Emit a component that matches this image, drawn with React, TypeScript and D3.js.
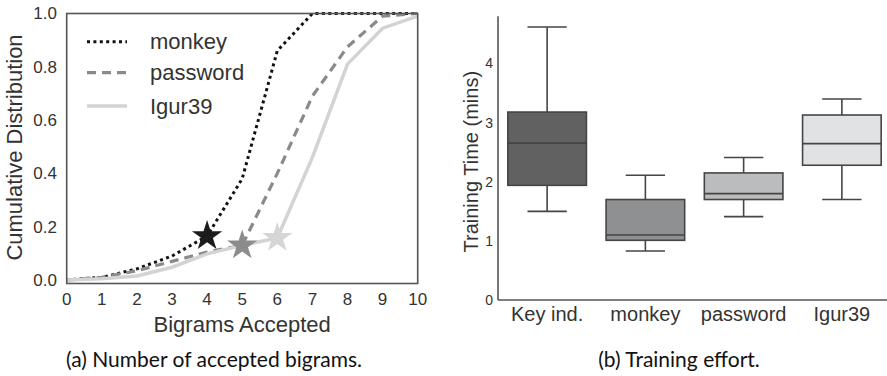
import React from 'react';
import * as d3 from 'd3';

// (a) CDF of accepted bigrams
const bigramX = [0, 1, 2, 3, 4, 5, 6, 7, 8, 9, 10];
const monkeyCdf = [0, 0.01, 0.042, 0.09, 0.165, 0.38, 0.86, 1.0, 1.0, 1.0, 1.0];
const passwordCdf = [0, 0.01, 0.035, 0.07, 0.105, 0.13, 0.4, 0.69, 0.875, 0.99, 1.0];
const igurCdf = [0, 0.005, 0.015, 0.048, 0.098, 0.13, 0.158, 0.46, 0.81, 0.945, 0.99];
const starX = [4, 5, 6];
const cdfTicksX = [0, 1, 2, 3, 4, 5, 6, 7, 8, 9, 10];
const cdfTicksY = [0, 0.2, 0.4, 0.6, 0.8, 1.0];

// (b) training time box stats: [lowWhisker, q1, median, q3, highWhisker]
const boxCats = ['Key ind.', 'monkey', 'password', 'Igur39'];
const boxStats = [
  [1.5, 1.94, 2.655, 3.18, 4.62],
  [0.83, 1.01, 1.1, 1.7, 2.11],
  [1.41, 1.7, 1.8, 2.15, 2.41],
  [1.7, 2.28, 2.645, 3.13, 3.4],
];
const boxFills = ['#616161', '#8f9091', '#bbbcbe', '#e1e2e3'];
const timeTicks = [0, 1, 2, 3, 4];

const series = [
  { name: 'monkey', values: monkeyCdf, color: '#111', width: 3, dash: '3,3.4', star: '#1c1c1c' },
  { name: 'password', values: passwordCdf, color: '#8a8a8a', width: 3.2, dash: '9,6', star: '#8c8c8c' },
  { name: 'Igur39', values: igurCdf, color: '#d3d3d3', width: 3.5, dash: null, star: '#d6d6d6' },
];

const FONT = '"Liberation Sans", Arial, sans-serif';
const CAP_FONT = 'Lato, "Open Sans", sans-serif';

export default function App() {
  const x = d3.scaleLinear().domain([0, 10]).range([66.7, 417.7]);
  const y = d3.scaleLinear().domain([-0.013, 1]).range([283.5, 13.5]);
  const line = d3.line<number>().x((_, i) => x(bigramX[i])).y(d => y(d));
  const star = d3.symbol().type(d3.symbolStar).size(285);

  const bx = d3.scaleBand().domain(boxCats).range([498, 891]).paddingInner(0.2).paddingOuter(0.1);
  const by = d3.scaleLinear().domain([0, 4.8]).range([300, 16.3]);
  const bw = bx.bandwidth();

  return (
    <svg width={887} height={376} style={{ position: 'absolute', left: 0, top: 0, background: '#fff' }}>
      {/* ---- left panel ---- */}
      <g fontFamily={FONT}>
        {series.map(s => (
          <path key={s.name} d={line(s.values) || ''} fill="none" stroke={s.color}
            strokeWidth={s.width} strokeDasharray={s.dash || undefined} />
        ))}
        {series.map((s, i) => (
          <path key={'st' + s.name} d={star() || ''} fill={s.star}
            transform={`translate(${x(starX[i])},${y(s.values[bigramX.indexOf(starX[i])])})`} />
        ))}
        <rect x={x(0)} y={y(1)} width={x(10) - x(0)} height={y(-0.013) - y(1)}
          fill="none" stroke="#555" strokeWidth={1.6} />
        {cdfTicksY.map(t => (
          <text key={t} x={57} y={y(t)} dy="0.35em" textAnchor="end" fontSize={17} fill="#333">
            {d3.format('.1f')(t)}
          </text>
        ))}
        {cdfTicksX.map(t => (
          <text key={t} x={x(t)} y={305} textAnchor="middle" fontSize={17} fill="#333">{t}</text>
        ))}
        <text x={x(5)} y={331.5} textAnchor="middle" fontSize={22} fill="#333">Bigrams Accepted</text>
        <text transform="translate(22,147.5) rotate(-90)" textAnchor="middle" fontSize={22} fill="#333">
          Cumulative Distribution
        </text>
        {series.map((s, i) => {
          const ly = [41.7, 72.7, 106][i];
          return (
            <g key={'lg' + s.name}>
              <line x1={87} x2={127} y1={ly} y2={ly} stroke={s.color} strokeWidth={s.width}
                strokeDasharray={s.dash || undefined} />
              <text x={150} y={ly} dy="0.35em" fontSize={22} fill="#333">{s.name}</text>
            </g>
          );
        })}
      </g>
      <text x={214} y={367} textAnchor="middle" fontFamily={CAP_FONT} fontSize={21} fill="#111">
        (a) Number of accepted bigrams.
      </text>

      {/* ---- right panel ---- */}
      <g fontFamily={FONT}>
        {boxStats.map((st, i) => {
          const cx = (bx(boxCats[i]) || 0) + bw / 2;
          const [lo, q1, med, q3, hi] = st;
          return (
            <g key={boxCats[i]} stroke="#454545" strokeWidth={1.6}>
              <line x1={cx} x2={cx} y1={by(hi)} y2={by(q3)} />
              <line x1={cx} x2={cx} y1={by(q1)} y2={by(lo)} />
              <line x1={cx - bw / 4} x2={cx + bw / 4} y1={by(hi)} y2={by(hi)} />
              <line x1={cx - bw / 4} x2={cx + bw / 4} y1={by(lo)} y2={by(lo)} />
              <rect x={cx - bw / 2} y={by(q3)} width={bw} height={by(q1) - by(q3)} fill={boxFills[i]} />
              <line x1={cx - bw / 2} x2={cx + bw / 2} y1={by(med)} y2={by(med)} />
            </g>
          );
        })}
        <line x1={498} x2={498} y1={by(4.8)} y2={by(0)} stroke="#555" strokeWidth={1.6} />
        <line x1={498} x2={891} y1={by(0)} y2={by(0)} stroke="#555" strokeWidth={1.6} />
        {timeTicks.map(t => (
          <text key={t} x={493} y={by(t)} dy="0.35em" textAnchor="end" fontSize={14} fill="#333">{t}</text>
        ))}
        {boxCats.map(c => (
          <text key={c} x={(bx(c) || 0) + bw / 2} y={321} textAnchor="middle" fontSize={20} fill="#333">{c}</text>
        ))}
        <text transform="translate(478,161.7) rotate(-90)" textAnchor="middle" fontSize={20} fill="#333">
          Training Time (mins)
        </text>
      </g>
      <text x={679} y={367} textAnchor="middle" fontFamily={CAP_FONT} fontSize={21} fill="#111">
        (b) Training effort.
      </text>
    </svg>
  );
}
